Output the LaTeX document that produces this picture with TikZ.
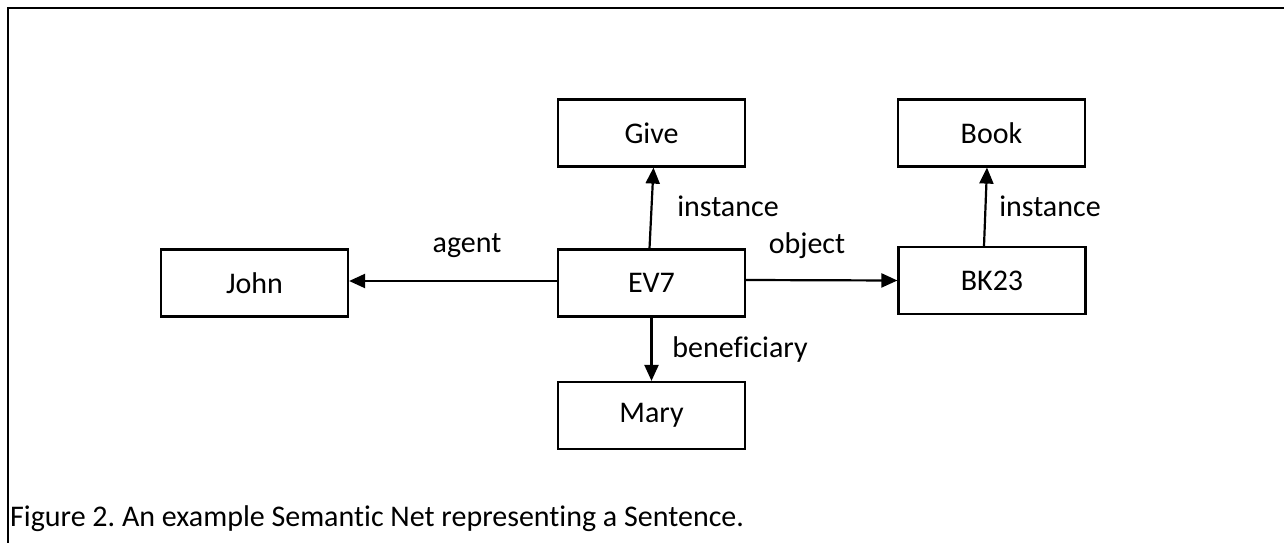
\documentclass[tikz,border=0pt]{standalone}
\usepackage{fontspec}
\setmainfont{Carlito}[Ligatures=NoCommon]
\usetikzlibrary{arrows.meta}
\begin{document}
\frenchspacing
\begin{tikzpicture}[x=1pt,y=-1pt,
  box/.style={draw,line width=2.2pt,minimum width=187pt,minimum height=67pt,inner sep=0pt,font=\fontsize{30}{36}\selectfont},
  lbl/.style={inner sep=0pt,font=\fontsize{30}{36}\selectfont},
  link/.style={line width=2.2pt,-{Triangle[length=16pt,width=14pt]}},
  frame/.style={line width=2.6pt}]
\useasboundingbox (0,0) rectangle (1284,543);
\coordinate (fa) at (1284,8);
\coordinate (fb) at (8,8);
\coordinate (fc) at (8,543);
\draw[frame] (fa) -- (fb) -- (fc);
\node[box] (John) at (254.5,283) {John};
\node[box] (EV7) at (651.5,283) {EV7};
\node[box] (Give) at (651.5,133) {Give};
\node[box] (Book) at (991.5,133) {Book};
\node[box] (BK23) at (992,280.5) {BK23};
\node[box] (Mary) at (651.5,415.5) {Mary};
\draw[link] ([yshift=2pt]EV7.west) -- ([yshift=2pt]John.east);
\draw[link] ([yshift=3pt]EV7.east) -- (BK23.west);
\draw[link] ([xshift=-2pt]EV7.north) -- ([xshift=2pt]Give.south);
\draw[link] (EV7.south) -- (Mary.north);
\draw[link] ([xshift=-8pt]BK23.north) -- ([xshift=-4.5pt]Book.south);
\node[lbl] (lagent) at (467,246) {agent};
\node[lbl] (linst1) at (728,206) {instance};
\node[lbl] (lobj) at (807,246) {object};
\node[lbl] (linst2) at (1050,206) {instance};
\node[lbl] (lben) at (740,349) {beneficiary};
\node[lbl,anchor=base west] (cap) at (10,526) {Figure 2. An example Semantic Net representing a Sentence.};
\end{tikzpicture}
\end{document}
